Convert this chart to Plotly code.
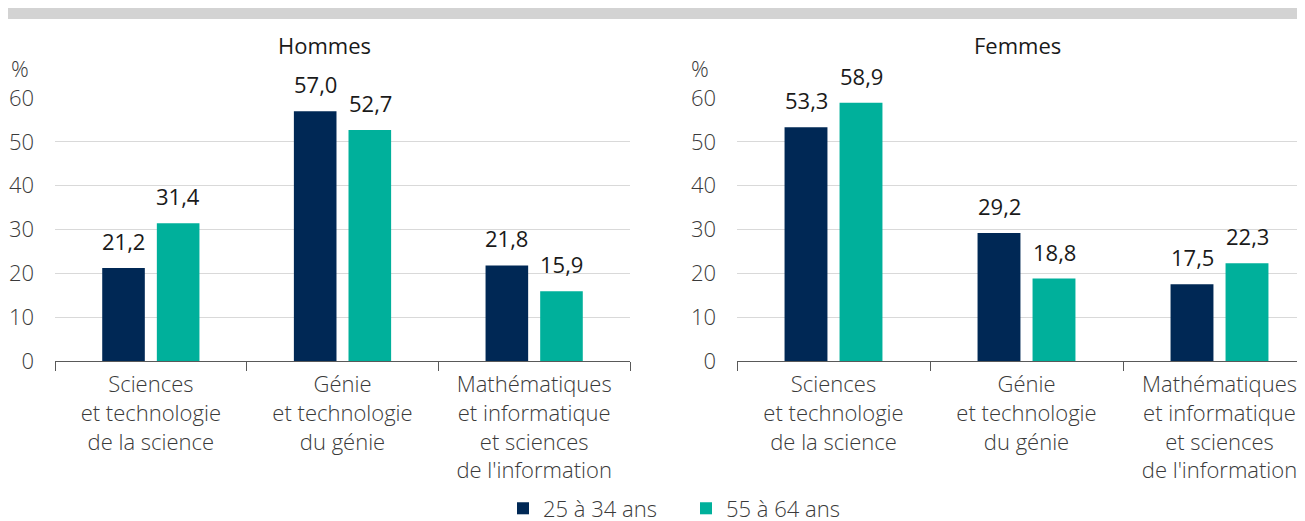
import plotly.graph_objects as go

categories = [
    "Sciences<br>et technologie<br>de la science",
    "Génie<br>et technologie<br>du génie",
    "Mathématiques<br>et informatique<br>et sciences<br>de l'information",
]
series_names = ["25 à 34 ans", "55 à 64 ans"]
hommes_25_34 = [21.2, 57.0, 21.8]
hommes_55_64 = [31.4, 52.7, 15.9]
femmes_25_34 = [53.3, 29.2, 17.5]
femmes_55_64 = [58.9, 18.8, 22.3]
panel_titles = ["Hommes", "Femmes"]
y_ticks = [0, 10, 20, 30, 40, 50, 60]

NAVY = "#002855"
TEAL = "#00b09b"
TXT = "#1a1a1a"
LIGHT = "#3a3a3a"
FONT = "Open Sans"
W, H = 1305, 521
OFF = 8  # page body margin


def px(x):
    return (x - OFF) / W


def py(y):
    return 1 - (y - OFF) / H


fig = go.Figure()
panels = [(hommes_25_34, hommes_55_64, "x", "y"), (femmes_25_34, femmes_55_64, "x2", "y2")]
for i, (a, b, xa, ya) in enumerate(panels):
    for name, vals, col in [(series_names[0], a, NAVY), (series_names[1], b, TEAL)]:
        fig.add_trace(go.Bar(
            x=categories, y=vals, name=name, marker=dict(color=col, line=dict(width=0)),
            xaxis=xa, yaxis=ya, showlegend=(i == 0), legendgroup=name,
        ))

annotations = []
for i, (a, b, xa, ya) in enumerate(panels):
    for vals, shift in [(a, -27.5), (b, 27.5)]:
        for c, v in zip(categories, vals):
            annotations.append(dict(
                x=c, y=v, xref=xa, yref=ya, xshift=shift, yshift=10,
                text=f"{v:.1f}".replace(".", ","), showarrow=False,
                yanchor="bottom", xanchor="center",
                font=dict(family=FONT, size=22, color=TXT),
            ))

for xpos, t in [(324.6, panel_titles[0]), (1017, panel_titles[1])]:
    annotations.append(dict(x=px(xpos), y=py(45), xref="paper", yref="paper", text=t,
                            showarrow=False, xanchor="center", yanchor="middle",
                            font=dict(family=FONT, size=22, color=TXT)))
for xpos in [9, 689]:
    annotations.append(dict(x=px(xpos), y=py(68), xref="paper", yref="paper", text="%",
                            showarrow=False, xanchor="left", yanchor="middle",
                            font=dict(family=FONT, size=22, color=LIGHT, weight=300)))

xcommon = dict(showline=True, linecolor="#595959", linewidth=1, ticks="outside",
               tickson="boundaries", ticklen=9, tickcolor="#595959", tickwidth=1,
               showgrid=False, zeroline=False, fixedrange=True, ticklabelstandoff=4,
               tickfont=dict(family=FONT, size=22, color=LIGHT, weight=300))
ycommon = dict(range=[0, 60], tickvals=y_ticks, showgrid=True, gridcolor="#d9d9d9",
               gridwidth=1, zeroline=False, showline=False, ticks="",
               ticklabelstandoff=20, fixedrange=True,
               tickfont=dict(family=FONT, size=22, color=LIGHT, weight=300))

ydom = [py(361), py(98)]
x2_left = 737 - OFF
fig.update_layout(
    width=W, height=H, margin=dict(l=0, r=0, t=0, b=0, autoexpand=False),
    paper_bgcolor="white", plot_bgcolor="white",
    barmode="group", bargap=0.43, bargroupgap=0.22,
    xaxis=dict(domain=[px(55), px(630)], range=[-0.5, 2.5], anchor="y", automargin=False, **xcommon),
    xaxis2=dict(domain=[px(737), 1.0], range=[-0.5, -0.5 + (W - x2_left) / 193], anchor="y2",
                automargin=False, **xcommon),
    yaxis=dict(domain=ydom, anchor="x", automargin=False, **ycommon),
    yaxis2=dict(domain=ydom, anchor="x2", automargin=False, **ycommon),
    legend=dict(orientation="h", x=px(686), xanchor="center", y=py(508.5), yanchor="middle",
                entrywidth=138, entrywidthmode="pixels",
                font=dict(family=FONT, size=22, color=LIGHT, weight=300),
                bgcolor="rgba(0,0,0,0)"),
    annotations=annotations,
    shapes=[dict(type="rect", xref="paper", yref="paper", x0=px(8), x1=1.0,
                 y0=py(19), y1=py(8), fillcolor="#d3d3d3", line=dict(width=0),
                 layer="below")],
    showlegend=True,
)

fig.write_html("out.html")
